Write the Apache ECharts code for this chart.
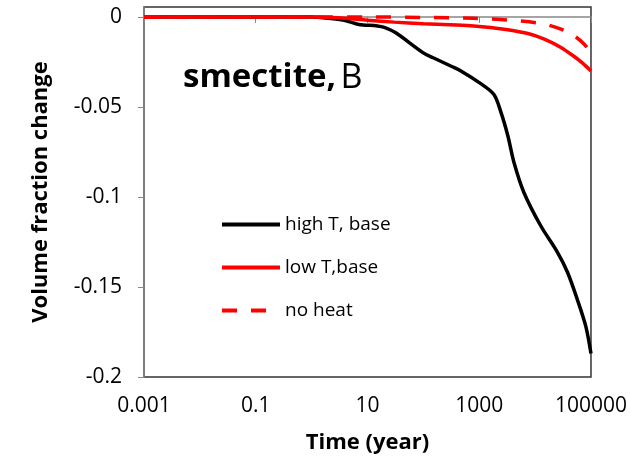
<!DOCTYPE html>
<html>
<head>
<meta charset="utf-8">
<script src="https://cdn.jsdelivr.net/npm/echarts@6/dist/echarts.min.js"></script>
<style>html,body{margin:0;padding:0;background:#fff;}#c{width:630px;height:459px;}</style>
</head>
<body>
<div id="c"></div>
<script>
// Data
const xTicks = [0.001, 0.1, 10, 1000, 100000];
const yTicks = [-0.2, -0.15, -0.1, -0.05, 0];

const tHigh = [0.001, 0.01, 0.1, 0.5, 1, 2, 4, 7, 15, 20, 31.6, 100, 150, 316, 470, 1000, 1820, 2450, 3250, 4200, 6300, 12600, 25000, 38000, 57000, 81000, 100000];
const vHigh = [0, 0, 0, 0, 0, -0.0008, -0.002, -0.0042, -0.005, -0.0058, -0.0087, -0.020, -0.0227, -0.0274, -0.030, -0.0365, -0.043, -0.053, -0.066, -0.081, -0.0975, -0.116, -0.1306, -0.1418, -0.157, -0.172, -0.187];

const tLow = [0.001, 0.1, 1, 3, 10, 30, 100, 300, 800, 3000, 8000, 15000, 29000, 50000, 70000, 100000];
const vLow = [0, 0, 0, -0.0005, -0.0018, -0.0029, -0.0038, -0.0044, -0.005, -0.007, -0.0095, -0.0125, -0.017, -0.022, -0.0255, -0.030];

const tNo = [0.001, 0.1, 1, 10, 100, 800, 3200, 12600, 29000, 50000, 75000, 100000];
const vNo = [0, 0, 0, 0, -0.0003, -0.0008, -0.0017, -0.0036, -0.0068, -0.0105, -0.015, -0.020];

const names = ['high T, base', 'low T,base', 'no heat'];

const zip = (a, b) => a.map((t, i) => [t, b[i]]);
const FONT = 'Open Sans';

const chart = echarts.init(document.getElementById('c'), null, {renderer: 'canvas'});
chart.setOption({
  animation: false,
  backgroundColor: '#fff',
  textStyle: {fontFamily: FONT},
  title: {
    left: 178, top: 56,
    text: '{a|smectite,} {b|B}',
    textStyle: {
      rich: {
        a: {fontFamily: FONT, fontSize: 33, fontWeight: 'bold', color: '#000'},
        b: {fontFamily: FONT, fontSize: 34, fontWeight: 'normal', color: '#000'}
      }
    }
  },
  legend: {
    orient: 'vertical',
    left: 215, top: 210,
    itemWidth: 58, itemHeight: 14, itemGap: 24,
    itemStyle: {opacity: 0},
    lineStyle: {width: 4},
    textStyle: {fontFamily: FONT, fontSize: 19, color: '#000'},
    data: names
  },
  grid: {
    left: 144, right: 39, top: 7, bottom: 81,
    show: true, borderColor: '#333', borderWidth: 1.5
  },
  xAxis: {
    type: 'log', logBase: 10, min: 0.001, max: 100000,
    name: 'Time (year)', nameLocation: 'middle', nameGap: 55,
    nameTextStyle: {fontFamily: FONT, fontSize: 22, fontWeight: 'bold', color: '#000'},
    axisLine: {show: true, lineStyle: {color: '#888', width: 1.5}},
    axisTick: {show: true, inside: false, length: 6, lineStyle: {color: '#888'}, customValues: xTicks},
    minorTick: {show: false},
    splitLine: {show: false},
    axisLabel: {fontFamily: FONT, fontSize: 21, color: '#000', margin: 19, customValues: xTicks,
      formatter: v => String(+v.toPrecision(6))}
  },
  yAxis: {
    type: 'value', min: -0.2, max: 0.0055,
    name: 'Volume fraction change', nameLocation: 'middle', nameGap: 92,
    nameTextStyle: {fontFamily: FONT, fontSize: 22, fontWeight: 'bold', color: '#000'},
    axisLine: {show: true, lineStyle: {color: '#888', width: 1.5}},
    axisTick: {show: true, inside: false, length: 6, lineStyle: {color: '#888'}, customValues: yTicks},
    splitLine: {show: false},
    axisLabel: {fontFamily: FONT, fontSize: 21, color: '#000', margin: 22, customValues: yTicks,
      formatter: v => String(+(+v).toFixed(3))}
  },
  series: [
    {name: names[0], type: 'line', data: zip(tHigh, vHigh), symbol: 'none', smooth: 0.3,
      lineStyle: {color: '#000', width: 3.5}, itemStyle: {color: '#000'}},
    {name: names[1], type: 'line', data: zip(tLow, vLow), symbol: 'none', smooth: 0.3,
      lineStyle: {color: '#ff0000', width: 3.5}, itemStyle: {color: '#ff0000'}},
    {name: names[2], type: 'line', data: zip(tNo, vNo), symbol: 'none', smooth: 0.3,
      lineStyle: {color: '#ff0000', width: 3.5, type: [15, 14]}, itemStyle: {color: '#ff0000'}}
  ]
});
</script>
</body>
</html>
